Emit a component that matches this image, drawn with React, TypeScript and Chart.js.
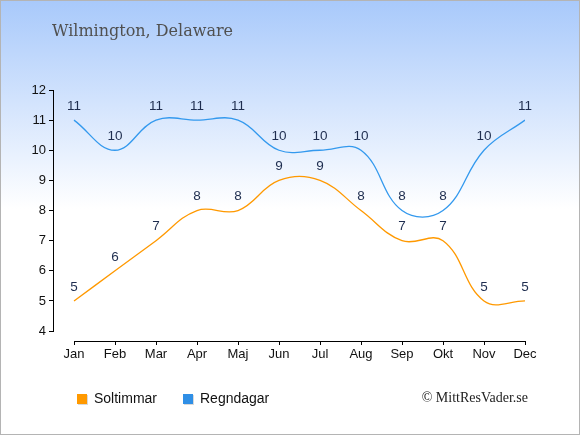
import React, { useEffect, useRef } from "react";
import { Chart, registerables } from "chart.js";

Chart.register(...registerables);

const months = ["Jan", "Feb", "Mar", "Apr", "Maj", "Jun", "Jul", "Aug", "Sep", "Okt", "Nov", "Dec"];
const soltimmar = [5, 6, 7, 8, 8, 9, 9, 8, 7, 7, 5, 5];
const regndagar = [11, 10, 11, 11, 11, 10, 10, 10, 8, 8, 10, 11];
const yTicks = [4, 5, 6, 7, 8, 9, 10, 11, 12];
const titleText = "Wilmington, Delaware";
const creditText = "© MittResVader.se";
const seriesNames = ["Soltimmar", "Regndagar"];
const seriesColors = ["#ff9900", "#3399ee"];
const legendColors = ["#ff9900", "#2f8fe6"];

const sans = "'Liberation Sans', Arial, sans-serif";
const serif = "'DejaVu Serif', serif";
const serif2 = "'Liberation Serif', serif";

const decorPlugin = {
  id: "decor",
  beforeDraw(chart: any) {
    const { ctx, width, height } = chart;
    ctx.save();
    const g = ctx.createLinearGradient(0, 0, 0, height);
    g.addColorStop(0, "#a8c9fb");
    g.addColorStop(0.48, "#ffffff");
    g.addColorStop(1, "#ffffff");
    ctx.fillStyle = g;
    ctx.fillRect(0, 0, width, height);
    ctx.strokeStyle = "#b4b4b4";
    ctx.lineWidth = 1;
    ctx.strokeRect(0.5, 0.5, width - 1, height - 1);
    ctx.restore();
  },
  afterDraw(chart: any) {
    const { ctx } = chart;
    const x = chart.scales.x;
    const y = chart.scales.y;
    ctx.save();
    // axis lines
    ctx.strokeStyle = "#000";
    ctx.lineWidth = 1;
    ctx.beginPath();
    const yl = Math.round(chart.chartArea.left) - 0.5;
    ctx.moveTo(yl, y.getPixelForValue(yTicks[yTicks.length - 1]));
    ctx.lineTo(yl, y.getPixelForValue(yTicks[0]));
    const xb = Math.round(chart.chartArea.bottom) + 0.5;
    ctx.moveTo(x.getPixelForValue(0), xb);
    ctx.lineTo(x.getPixelForValue(months.length - 1), xb);
    ctx.stroke();

    // title
    ctx.fillStyle = "#505050";
    ctx.font = `16px ${serif}`;
    ctx.textAlign = "left";
    ctx.textBaseline = "middle";
    ctx.fillText(titleText, 52, 32);

    // legend
    const lx = [77, 183];
    ctx.font = `14px ${sans}`;
    seriesNames.forEach((n, i) => {
      ctx.fillStyle = "rgba(0,0,0,0.15)";
      ctx.fillRect(lx[i] + 1, 395, 10, 10);
      ctx.fillStyle = legendColors[i];
      ctx.fillRect(lx[i], 394, 10, 10);
      ctx.fillStyle = "#111";
      ctx.textAlign = "left";
      ctx.fillText(n, lx[i] + 17, 399);
    });

    // credit
    ctx.fillStyle = "#222";
    ctx.font = `14px ${serif2}`;
    ctx.textAlign = "right";
    ctx.fillText(creditText, 528, 398);
    ctx.restore();
  },
  afterDatasetsDraw(chart: any) {
    const { ctx } = chart;
    ctx.save();
    ctx.font = `13.5px ${sans}`;
    ctx.fillStyle = "#1e2d4f";
    ctx.textAlign = "center";
    ctx.textBaseline = "middle";
    chart.data.datasets.forEach((ds: any, i: number) => {
      const meta = chart.getDatasetMeta(i);
      meta.data.forEach((pt: any, j: number) => {
        ctx.fillText(String(ds.data[j].y), pt.x, pt.y - 14);
      });
    });
    ctx.restore();
  },
};

export default function App() {
  const ref = useRef<HTMLCanvasElement | null>(null);
  useEffect(() => {
    if (!ref.current) return;
    const chart = new Chart(ref.current, {
      type: "line",
      data: {
        datasets: [
          {
            label: seriesNames[0],
            data: soltimmar.map((v, i) => ({ x: i, y: v })),
            borderColor: seriesColors[0],
            borderWidth: 1.3,
            tension: 0.4,
            pointRadius: 0,
            fill: false,
          },
          {
            label: seriesNames[1],
            data: regndagar.map((v, i) => ({ x: i, y: v })),
            borderColor: seriesColors[1],
            borderWidth: 1.3,
            tension: 0.4,
            pointRadius: 0,
            fill: false,
          },
        ],
      },
      options: {
        animation: false,
        responsive: false,
        devicePixelRatio: 1,
        layout: { padding: { left: 0, right: 55, top: 90, bottom: 0 } },
        plugins: { legend: { display: false }, title: { display: false }, tooltip: { enabled: false } },
        scales: {
          x: {
            type: "linear",
            min: -0.488,
            max: 11,
            afterBuildTicks: (s: any) => {
              s.ticks = months.map((_, i) => ({ value: i }));
            },
            afterFit: (s: any) => {
              s.height = 94;
            },
            ticks: {
              autoSkip: false,
              maxRotation: 0,
              padding: 2,
              color: "#111",
              font: { family: sans, size: 13 },
              callback: (v: any) => months[v as number] ?? "",
            },
            grid: { drawOnChartArea: false, drawTicks: true, tickLength: 4, color: "#000" },
            border: { display: false },
          },
          y: {
            type: "linear",
            min: 3.67,
            max: 12,
            afterBuildTicks: (s: any) => {
              s.ticks = yTicks.map((v) => ({ value: v }));
            },
            afterFit: (s: any) => {
              s.width = 54;
            },
            ticks: {
              padding: 3,
              color: "#111",
              font: { family: sans, size: 13 },
              callback: (v: any) => String(v),
            },
            grid: { drawOnChartArea: false, drawTicks: true, tickLength: 5, color: "#000" },
            border: { display: false },
          },
        },
      },
      plugins: [decorPlugin],
    } as any);
    return () => chart.destroy();
  }, []);
  return (
    <div style={{ position: "fixed", left: 0, top: 0, width: 580, height: 435 }}>
      <canvas ref={ref} width={580} height={435} style={{ width: 580, height: 435, display: "block" }} />
    </div>
  );
}
